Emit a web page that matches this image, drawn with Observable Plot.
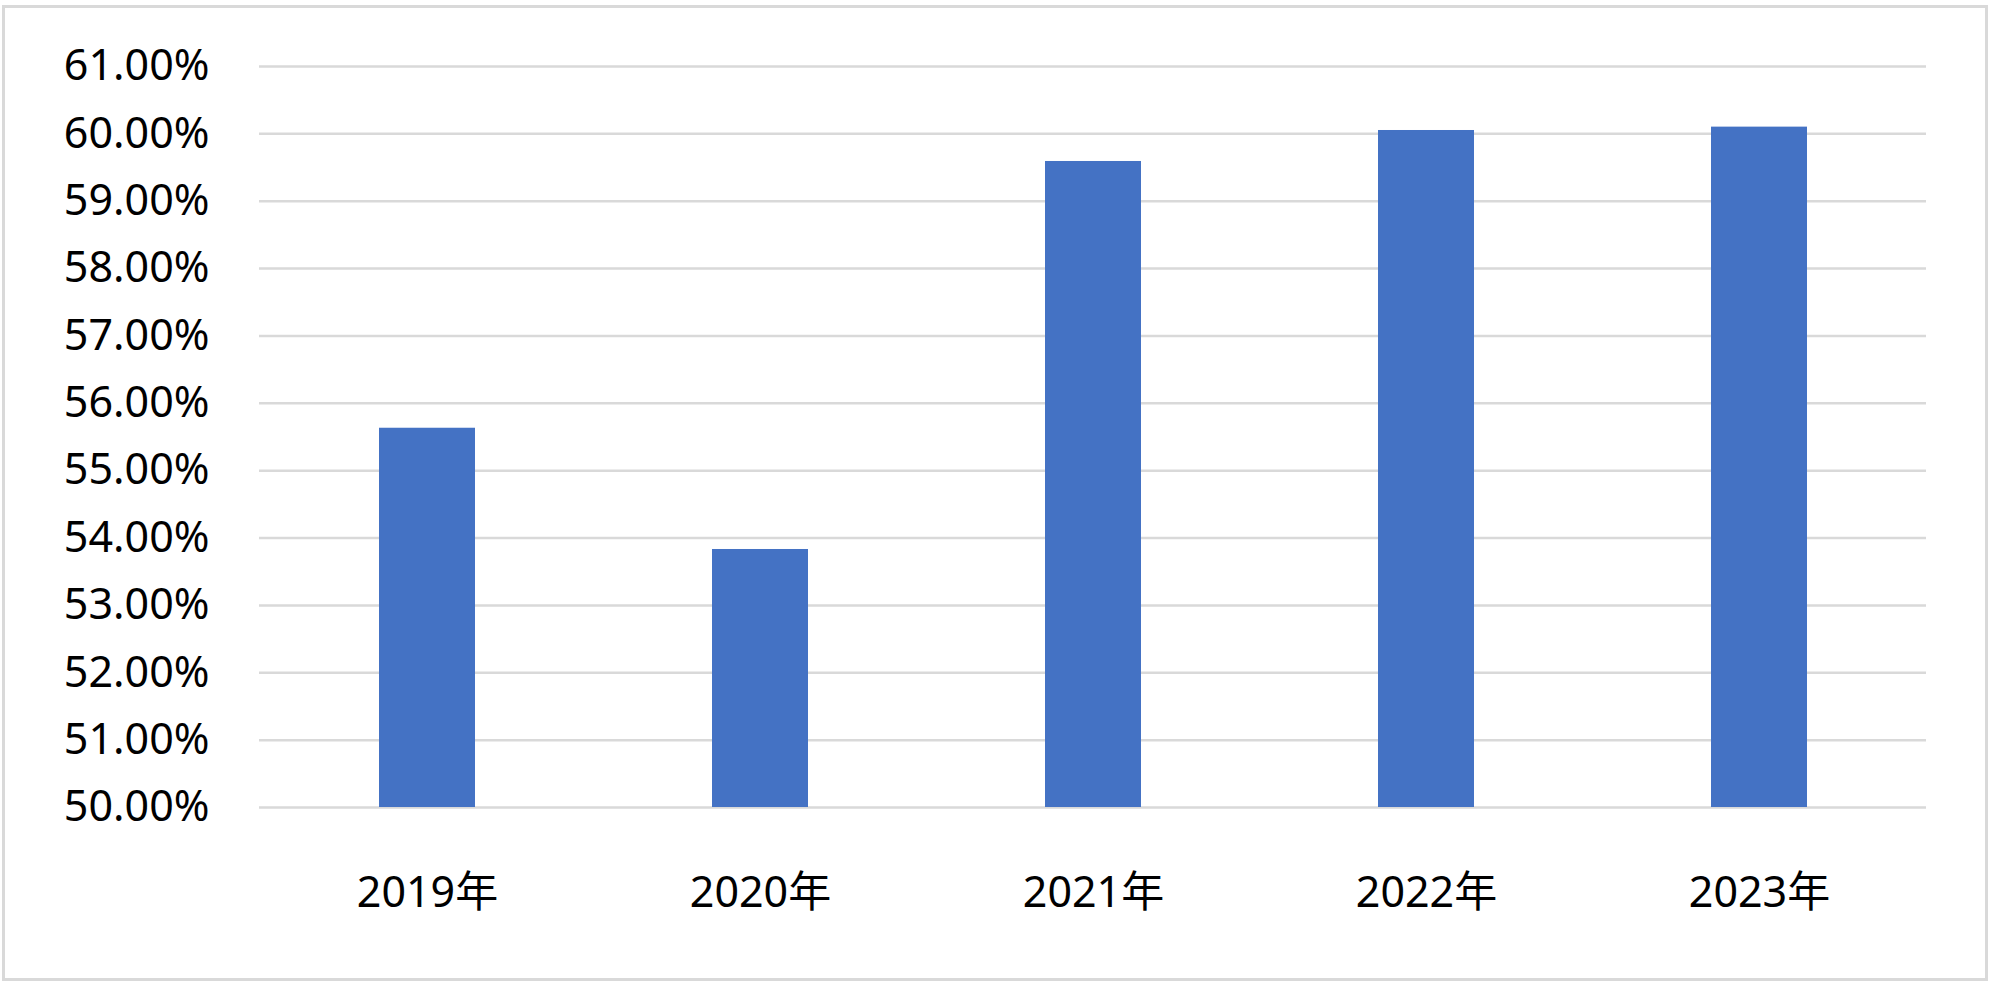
<!DOCTYPE html>
<html><head><meta charset="utf-8">
<script src="https://cdn.jsdelivr.net/npm/d3@7"></script>
<script src="https://cdn.jsdelivr.net/npm/@observablehq/plot@0.6"></script>
<style>
html,body{margin:0;padding:0;background:#fff;}
#frame{position:absolute;left:2px;top:5px;width:1986px;height:976px;border:3px solid #d9d9d9;box-sizing:border-box;pointer-events:none;}
#chart{position:absolute;left:0;top:0;}
</style></head><body>
<div id="chart"></div><div id="frame"></div>
<script>
const years = ["2019年", "2020年", "2021年", "2022年", "2023年"];
const ratios = [0.5563, 0.5383, 0.5959, 0.6005, 0.6010];
const yTicks = [0.50, 0.51, 0.52, 0.53, 0.54, 0.55, 0.56, 0.57, 0.58, 0.59, 0.60, 0.61];
const yMin = yTicks[0];
const yMax = yTicks[yTicks.length - 1];

const data = years.map((year, i) => ({year, ratio: ratios[i]}));
const font = "'Noto Sans', 'Noto Sans CJK SC', sans-serif";

const chart = Plot.plot({
  width: 2000,
  height: 997,
  marginLeft: 259,
  marginRight: 74,
  marginTop: 66,
  marginBottom: 190,
  style: {fontFamily: font, color: "#000", background: "transparent"},
  x: {domain: years, paddingInner: 0.712, paddingOuter: 0.356, align: 0.5},
  y: {domain: [yMin, yMax]},
  marks: [
    Plot.ruleY(yTicks, {stroke: "#d9d9d9", strokeWidth: 2.5}),
    Plot.barY(data, {x: "year", y1: yMin, y2: "ratio", fill: "#4472C4"}),
    Plot.axisY(yTicks, {tickSize: 0, tickPadding: 50, fontSize: 43, tickFormat: d3.format(".2%"), label: null, fill: "#000"}),
    Plot.axisX({tickSize: 0, tickPadding: 69, fontSize: 43, label: null, fill: "#000"})
  ]
});
document.getElementById("chart").appendChild(chart);
</script>
</body></html>
